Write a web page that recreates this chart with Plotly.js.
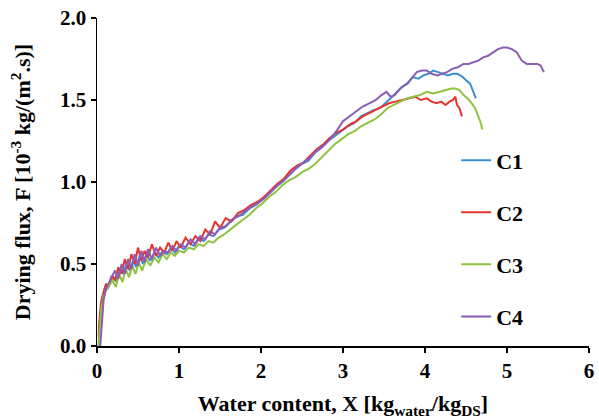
<!DOCTYPE html>
<html>
<head>
<meta charset="utf-8">
<script src="https://cdn.plot.ly/plotly-3.0.1.min.js"></script>
<style>html,body{margin:0;padding:0;background:#fff;}#chart{width:599px;height:420px;}</style>
</head>
<body>
<div id="chart"></div>
<script>
// Series names
const seriesNames = ["C1", "C2", "C3", "C4"];
const seriesColors = ["#3b8fd6", "#e8322c", "#8cc43e", "#8c5db5"];

// C1 (blue)
const x1 = [0.02,0.03,0.05,0.07,0.1,0.13,0.17,0.2,0.24,0.28,0.32,0.36,0.4,0.44,0.48,0.52,0.56,0.6,0.65,0.7,0.75,0.8,0.85,0.9,0.95,1.0,1.06,1.12,1.18,1.24,1.3,1.36,1.42,1.48,1.55,1.62,1.7,1.78,1.86,1.94,2.02,2.1,2.18,2.26,2.34,2.42,2.5,2.58,2.66,2.74,2.82,2.9,2.98,3.06,3.14,3.22,3.3,3.38,3.45,3.52,3.6,3.66,3.72,3.79,3.85,3.92,3.98,4.04,4.1,4.16,4.22,4.28,4.34,4.39,4.43,4.46,4.5,4.55,4.59,4.62];
const f1 = [0.0,0.12,0.24,0.31,0.36,0.35,0.40,0.42,0.39,0.47,0.44,0.50,0.46,0.52,0.48,0.55,0.50,0.56,0.52,0.57,0.54,0.58,0.56,0.60,0.57,0.61,0.59,0.63,0.61,0.66,0.64,0.68,0.67,0.71,0.72,0.75,0.79,0.80,0.84,0.86,0.90,0.93,0.97,1.00,1.04,1.08,1.11,1.13,1.18,1.21,1.25,1.28,1.31,1.34,1.36,1.40,1.42,1.44,1.45,1.48,1.52,1.55,1.58,1.60,1.64,1.63,1.65,1.66,1.68,1.67,1.66,1.65,1.66,1.66,1.65,1.64,1.62,1.60,1.55,1.51];

// C2 (red)
const x2 = [0.02,0.03,0.05,0.08,0.11,0.14,0.18,0.22,0.26,0.3,0.34,0.38,0.42,0.46,0.5,0.54,0.58,0.62,0.67,0.72,0.77,0.82,0.87,0.92,0.97,1.02,1.08,1.14,1.2,1.26,1.32,1.38,1.44,1.5,1.57,1.64,1.72,1.8,1.88,1.96,2.04,2.12,2.2,2.28,2.36,2.44,2.52,2.6,2.68,2.76,2.84,2.92,3.0,3.08,3.16,3.24,3.32,3.4,3.48,3.56,3.64,3.72,3.8,3.88,3.95,4.02,4.08,4.14,4.2,4.25,4.3,4.34,4.37,4.39,4.42,4.45];
const f2 = [0.05,0.16,0.27,0.33,0.38,0.36,0.43,0.40,0.48,0.44,0.53,0.47,0.56,0.50,0.60,0.52,0.58,0.54,0.62,0.55,0.60,0.57,0.63,0.58,0.64,0.60,0.66,0.62,0.67,0.64,0.71,0.68,0.76,0.72,0.78,0.76,0.81,0.83,0.86,0.88,0.91,0.95,0.99,1.02,1.07,1.10,1.12,1.16,1.20,1.23,1.27,1.30,1.32,1.35,1.37,1.40,1.42,1.44,1.46,1.48,1.49,1.50,1.51,1.52,1.50,1.51,1.49,1.48,1.49,1.47,1.49,1.50,1.52,1.47,1.45,1.40];

// C3 (green)
const x3 = [0.02,0.03,0.05,0.08,0.11,0.15,0.19,0.23,0.27,0.31,0.35,0.39,0.43,0.47,0.51,0.55,0.6,0.65,0.7,0.75,0.8,0.85,0.9,0.95,1.0,1.06,1.12,1.18,1.24,1.3,1.36,1.42,1.48,1.55,1.62,1.7,1.78,1.86,1.94,2.02,2.1,2.18,2.26,2.34,2.42,2.5,2.58,2.66,2.74,2.82,2.9,2.98,3.06,3.14,3.22,3.3,3.38,3.46,3.54,3.62,3.7,3.78,3.86,3.94,4.02,4.1,4.18,4.26,4.32,4.37,4.42,4.47,4.52,4.57,4.61,4.65,4.68,4.7];
const f3 = [0.0,0.10,0.22,0.30,0.34,0.37,0.40,0.36,0.44,0.39,0.47,0.42,0.49,0.44,0.51,0.46,0.53,0.49,0.54,0.51,0.56,0.53,0.57,0.55,0.58,0.57,0.60,0.59,0.62,0.61,0.64,0.63,0.66,0.68,0.71,0.74,0.77,0.80,0.84,0.87,0.91,0.94,0.98,1.01,1.03,1.06,1.08,1.11,1.15,1.19,1.23,1.26,1.29,1.31,1.34,1.36,1.38,1.41,1.45,1.47,1.49,1.51,1.52,1.53,1.55,1.54,1.55,1.56,1.57,1.57,1.56,1.53,1.51,1.48,1.45,1.40,1.36,1.32];

// C4 (purple)
const x4 = [0.04,0.05,0.06,0.08,0.11,0.14,0.18,0.22,0.26,0.3,0.34,0.38,0.42,0.46,0.5,0.54,0.58,0.62,0.67,0.72,0.77,0.82,0.87,0.92,0.97,1.02,1.08,1.14,1.2,1.26,1.32,1.38,1.44,1.5,1.57,1.64,1.72,1.8,1.88,1.96,2.04,2.12,2.2,2.28,2.36,2.44,2.52,2.6,2.68,2.76,2.84,2.92,3.0,3.08,3.16,3.24,3.32,3.4,3.47,3.53,3.58,3.63,3.7,3.78,3.85,3.9,3.96,4.02,4.08,4.15,4.21,4.27,4.33,4.4,4.47,4.53,4.59,4.65,4.71,4.77,4.83,4.89,4.95,5.0,5.06,5.12,5.18,5.24,5.3,5.37,5.41,5.45];
const f4 = [0.0,0.08,0.18,0.28,0.35,0.38,0.42,0.46,0.41,0.50,0.44,0.53,0.47,0.56,0.49,0.58,0.51,0.59,0.53,0.60,0.55,0.58,0.57,0.61,0.58,0.62,0.60,0.65,0.62,0.67,0.65,0.70,0.68,0.72,0.73,0.77,0.79,0.82,0.85,0.87,0.90,0.94,0.98,1.01,1.05,1.09,1.12,1.15,1.19,1.22,1.26,1.31,1.37,1.40,1.43,1.46,1.48,1.50,1.53,1.55,1.52,1.53,1.57,1.60,1.64,1.67,1.68,1.68,1.66,1.65,1.66,1.67,1.69,1.70,1.72,1.72,1.73,1.74,1.76,1.77,1.79,1.81,1.82,1.82,1.81,1.79,1.74,1.72,1.72,1.72,1.71,1.67];

const xs = [x1, x2, x3, x4];
const fs = [f1, f2, f3, f4];

const traces = seriesNames.map((name, i) => ({
  type: "scatter",
  mode: "lines",
  name: name,
  legendgroup: "g" + i,
  x: xs[i],
  y: fs[i],
  line: {color: seriesColors[i], width: 2}
}));

const fontFam = "Liberation Serif, Times New Roman, serif";
const axisCommon = {
  showgrid: false,
  zeroline: false,
  showline: true,
  linecolor: "#000",
  linewidth: 1.5,
  ticks: "outside",
  ticklen: 5,
  tickwidth: 1.5,
  tickcolor: "#000",
  tickfont: {family: fontFam, size: 21, color: "#000", weight: "bold"}
};

const layout = {
  width: 599,
  height: 420,
  margin: {l: 97, r: 10, t: 18, b: 74},
  paper_bgcolor: "#fff",
  plot_bgcolor: "#fff",
  font: {family: fontFam, color: "#000"},
  xaxis: Object.assign({}, axisCommon, {
    range: [0, 6],
    dtick: 1,
    tick0: 0,
    title: {text: "<b>Water content, X [kg<sub>water</sub>/kg<sub>DS</sub>]</b>", font: {family: fontFam, size: 22, color: "#000"}, standoff: 14}
  }),
  yaxis: Object.assign({}, axisCommon, {
    range: [0, 2],
    dtick: 0.5,
    tick0: 0,
    tickformat: ".1f",
    title: {text: "<b>Drying flux, F [10<sup>-3</sup> kg/(m<sup>2</sup>.s)]</b>", font: {family: fontFam, size: 22, color: "#000"}, standoff: 23}
  }),
  legend: {
    x: 0.73, y: 0.63, xanchor: "left", yanchor: "top",
    bgcolor: "rgba(0,0,0,0)",
    font: {family: fontFam, size: 22, color: "#000", weight: "bold"},
    tracegroupgap: 20.5,
    itemwidth: 30
  },
  showlegend: true
};

Plotly.newPlot("chart", traces, layout, {displayModeBar: false, staticPlot: true});
</script>
</body>
</html>
